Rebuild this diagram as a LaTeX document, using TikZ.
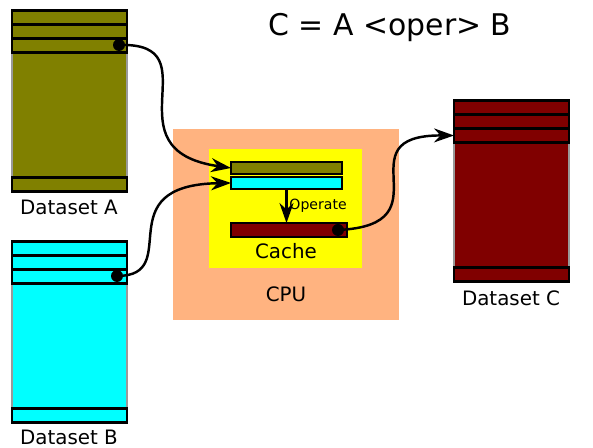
\documentclass[tikz,border=0pt]{standalone}
\usepackage{fontspec}
\setmainfont{DejaVu Sans}
\usepackage{xcolor}
\usepackage{tikz}
\usetikzlibrary{arrows.meta, positioning}

\definecolor{oliveA}{HTML}{808000}
\definecolor{cyanB}{HTML}{00FFFF}
\definecolor{redC}{HTML}{800000}
\definecolor{cpuorange}{HTML}{FFB380}
\definecolor{cacheyellow}{HTML}{FFFF00}

\begin{document}
\begin{tikzpicture}[
        x=0.02cm, y=-0.02cm,
        colbody/.style={rectangle, draw=black!40, line width=1pt, minimum width=2.3cm, minimum height=3.62cm, inner sep=0pt, outer sep=0pt},
        rowbar/.style={rectangle, draw=black, line width=1.2pt, minimum width=2.3cm, minimum height=0.28cm, inner sep=0pt, outer sep=0pt},
        cachebar/.style={rectangle, draw=black, line width=1pt, minimum height=0.24cm, inner sep=0pt, outer sep=0pt},
        dslabel/.style={font=\fontsize{11.3}{13}\selectfont, inner sep=0pt},
        dot/.style={circle, fill=black, inner sep=0pt, minimum size=0.24cm},
        link/.style={-{Stealth[length=4mm, width=2.8mm, inset=1.3mm]}, line width=1.4pt}
    ]
    \useasboundingbox (0,0) rectangle (593,448);

    % Title
    \node[font=\fontsize{17}{20}\selectfont] (title) at (390,28) {C = A <oper> B};

    % Dataset A
    \node[colbody, fill=oliveA] (setA) at (69.5,101) {};
    \node[rowbar, fill=oliveA, anchor=north] (setA1) at (setA.north) {};
    \node[rowbar, fill=oliveA, anchor=north] (setA2) at (setA1.south) {};
    \node[rowbar, fill=oliveA, anchor=north] (setA3) at (setA2.south) {};
    \node[rowbar, fill=oliveA, anchor=south] (setA4) at (setA.south) {};
    \node[dslabel] (labelA) at (69,207) {Dataset A};
    \node[dot] (dotA) at (119,45) {};

    % Dataset B
    \node[colbody, fill=cyanB] (setB) at (69.5,332) {};
    \node[rowbar, fill=cyanB, anchor=north] (setB1) at (setB.north) {};
    \node[rowbar, fill=cyanB, anchor=north] (setB2) at (setB1.south) {};
    \node[rowbar, fill=cyanB, anchor=north] (setB3) at (setB2.south) {};
    \node[rowbar, fill=cyanB, anchor=south] (setB4) at (setB.south) {};
    \node[dslabel] (labelB) at (69,437) {Dataset B};
    \node[dot] (dotB) at (117,276) {};

    % Dataset C
    \node[colbody, fill=redC] (setC) at (511.5,191) {};
    \node[rowbar, fill=redC, anchor=north] (setC1) at (setC.north) {};
    \node[rowbar, fill=redC, anchor=north] (setC2) at (setC1.south) {};
    \node[rowbar, fill=redC, anchor=north] (setC3) at (setC2.south) {};
    \node[rowbar, fill=redC, anchor=south] (setC4) at (setC.south) {};
    \node[dslabel] (labelC) at (511,298) {Dataset C};

    % CPU and cache
    \node[rectangle, fill=cpuorange, minimum width=4.52cm, minimum height=3.82cm] (cpu) at (286,224.5) {};
    \node[rectangle, fill=cacheyellow, minimum width=3.06cm, minimum height=2.38cm] (cache) at (285.5,208.5) {};
    \node[dslabel] (cpulabel) at (286,294) {CPU};
    \node[dslabel] (cachelabel) at (286,251) {Cache};

    \node[cachebar, fill=oliveA, minimum width=2.22cm] (cacheA) at (286.5,168) {};
    \node[cachebar, fill=cyanB, minimum width=2.22cm] (cacheB) at (286.5,183) {};
    \node[cachebar, fill=redC, minimum width=2.32cm, minimum height=0.28cm] (cacheC) at (289,230) {};
    \node[dot] (dotC) at (338,230) {};

    % Operate
    \draw[link] (cacheB.south) -- (cacheB.south |- cacheC.north)
        node[midway, right=1pt, font=\fontsize{8}{9}\selectfont, inner sep=0pt] (oper) {Operate};

    % Loading and storing
    \draw[link] (dotA.center) .. controls (215,42) and (105,150) .. (cacheA.west);
    \draw[link] (dotB.center) .. controls (185,276) and (105,185) .. (cacheB.west);
    \draw[link] (dotC.center) .. controls (450,225) and (340,135) .. (setC3.west);

\end{tikzpicture}
\end{document}
